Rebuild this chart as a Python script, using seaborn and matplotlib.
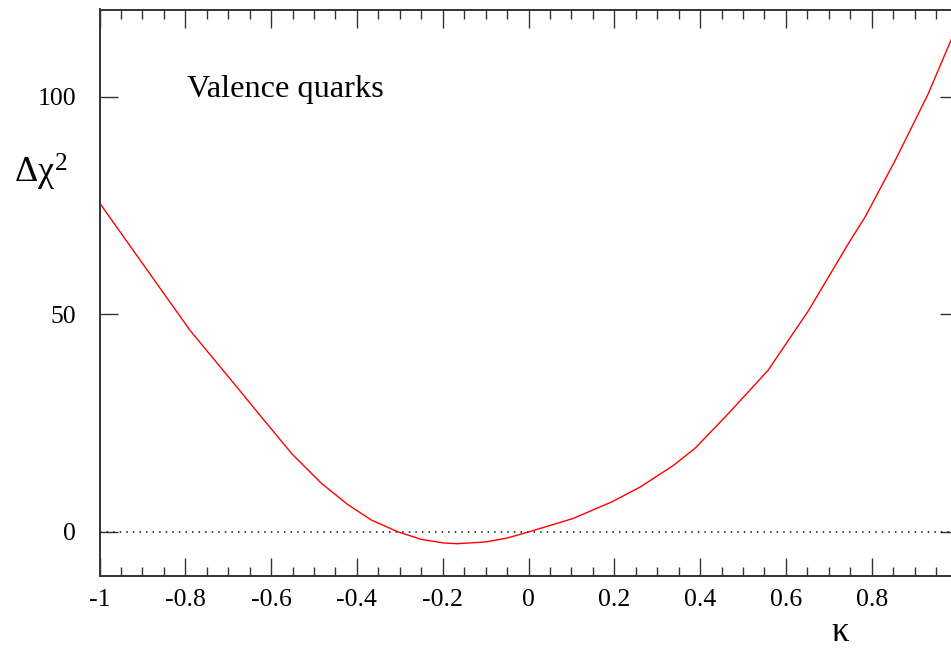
import matplotlib
matplotlib.use("Agg")
import matplotlib.pyplot as plt
import seaborn as sns
import pandas as pd
from matplotlib.ticker import MultipleLocator

kappa = [-1.0, -0.9, -0.789, -0.7, -0.62, -0.552, -0.482, -0.42, -0.3655, -0.3035,
         -0.25, -0.2, -0.167, -0.1, -0.05, 0.0, 0.104, 0.194, 0.26, 0.338, 0.388,
         0.466, 0.559, 0.653, 0.746, 0.785, 0.855, 0.909, 0.932, 0.985, 1.0]
dchi2 = [75.6, 61.7, 46.3, 35.7, 26.1, 18.0, 11.1, 6.2, 2.7, 0.0,
         -1.7, -2.5, -2.7, -2.3, -1.4, 0.0, 3.1, 6.9, 10.3, 15.3, 19.2,
         27.2, 37.2, 50.9, 66.3, 72.4, 85.4, 96.1, 100.7, 113.0, 116.5]
xticks = [-1, -0.8, -0.6, -0.4, -0.2, 0, 0.2, 0.4, 0.6, 0.8]
xticklabels = ["-1", "-0.8", "-0.6", "-0.4", "-0.2", "0", "0.2", "0.4", "0.6", "0.8"]
yticks = [0, 50, 100]
yticklabels = ["0", "50", "100"]

sns.set_style("ticks")
plt.rcParams['font.family'] = ['Liberation Serif', 'DejaVu Serif']
plt.rcParams['mathtext.fontset'] = 'custom'
plt.rcParams['mathtext.rm'] = 'Liberation Serif'
plt.rcParams['mathtext.it'] = 'Liberation Serif'
plt.rcParams['mathtext.bf'] = 'Liberation Serif:bold'
plt.rcParams['text.color'] = 'black'
plt.rcParams['xtick.labelcolor'] = 'black'
plt.rcParams['ytick.labelcolor'] = 'black'

W, H = 951, 649
fig = plt.figure(figsize=(W / 100, H / 100), dpi=100)
x0, x1, ytop, ybot = 99.5, 957.5, 9.5, 575.5
ax = fig.add_axes([x0 / W, (H - ybot) / H, (x1 - x0) / W, (ybot - ytop) / H])

df = pd.DataFrame({"kappa": kappa, "dchi2": dchi2})
sns.lineplot(data=df, x="kappa", y="dchi2", color="red", lw=1.0, ax=ax,
             sort=False, estimator=None)
ax.axhline(0, color="#111111", lw=1.1, ls=(0, (1, 3.3)), zorder=1)

ax.set_xlim(-1, 1)
ax.set_ylim(-10, 120)
ax.set_xticks(xticks)
ax.set_xticklabels(xticklabels)
ax.set_yticks(yticks)
ax.set_yticklabels(yticklabels)
ax.xaxis.set_minor_locator(MultipleLocator(0.05))
ax.set_xlabel("")
ax.set_ylabel("")

for s in ax.spines.values():
    s.set_linewidth(1.4)
    s.set_color("#333333")
ax.tick_params(axis="both", which="major", direction="in", length=13, width=1.0,
               color="#333333", labelsize=18.5, labelcolor="black", top=True, right=True)
ax.tick_params(axis="x", which="major", pad=10)
ax.tick_params(axis="y", which="major", pad=17)
ax.tick_params(axis="x", which="minor", direction="in", length=6.5, width=1.0,
               color="#333333", top=True, bottom=True)

ax.text(0.102, 0.845, "Valence quarks", transform=ax.transAxes, fontsize=23.3,
        va="baseline", ha="left", color="black")
fig.text(41 / W, 1 - 172 / H, r"$\Delta\chi^2$", fontsize=26, ha="center",
         va="center", color="black")
fig.text(840 / W, 1 - 641 / H, "κ", fontsize=25, ha="center", va="baseline",
         color="black")

fig.savefig("out.png", dpi=100)
